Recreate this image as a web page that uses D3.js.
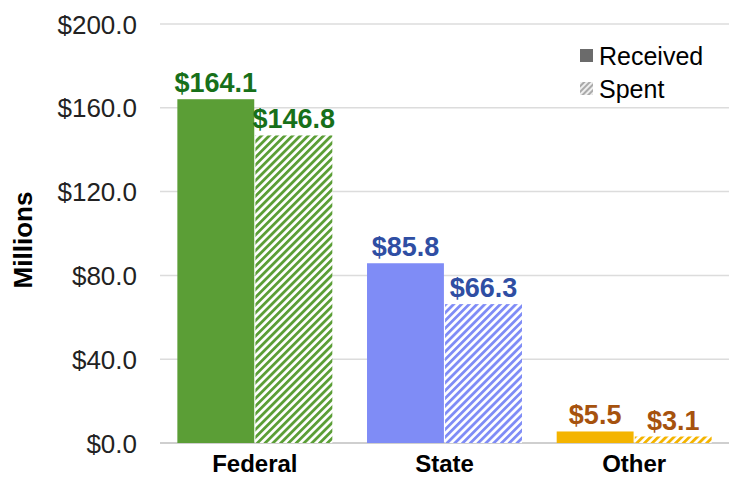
<!DOCTYPE html>
<html><head><meta charset="utf-8">
<script src="https://cdn.jsdelivr.net/npm/d3@7/dist/d3.min.js"></script>
<style>body{margin:0;background:#fff;}svg{display:block;font-family:"Liberation Sans",Arial,sans-serif;}</style>
</head><body>
<svg id="c" width="729" height="478"></svg>
<script>
const categories = ["Federal", "State", "Other"];
const series = ["Received", "Spent"];
const received = [164.1, 85.8, 5.5];
const spent = [146.8, 66.3, 3.1];
const yTicks = [0, 40, 80, 120, 160, 200];
const barColors = ["#5b9e36", "#7f8cf6", "#f4b400"];
const labelColors = ["#17701a", "#2f4ea3", "#a6520e"];

const svg = d3.select("#c");
const y = d3.scaleLinear().domain([0, 200]).range([443, 24]);
const x0 = d3.scaleBand().domain(categories).range([160, 729]).paddingInner(0.183).paddingOuter(0.0915);
const x1 = d3.scaleBand().domain(series).range([0, x0.bandwidth()]).paddingInner(0.015);

const defs = svg.append("defs");
barColors.forEach((c, i) => {
  const p = defs.append("pattern").attr("id", "h" + i).attr("patternUnits", "userSpaceOnUse")
    .attr("width", 5.5).attr("height", 5.5).attr("patternTransform", "rotate(45)");
  p.append("rect").attr("width", 5.5).attr("height", 5.5).attr("fill", "#fff");
  p.append("rect").attr("width", 2.8).attr("height", 5.5).attr("fill", c);
});
const lp = defs.append("pattern").attr("id", "hl").attr("patternUnits", "userSpaceOnUse")
  .attr("width", 4).attr("height", 4).attr("patternTransform", "rotate(45)");
lp.append("rect").attr("width", 4).attr("height", 4).attr("fill", "#eee");
lp.append("rect").attr("width", 2).attr("height", 4).attr("fill", "#aaa");

// y axis + grid
const yAxis = d3.axisLeft(y).tickValues(yTicks).tickSize(0).tickPadding(0).tickFormat(d => "$" + d3.format(".1f")(d));
const gy = svg.append("g").attr("transform", "translate(137,0)").call(yAxis);
gy.select(".domain").remove();
gy.selectAll("text").attr("font-size", 26).attr("fill", "#222").attr("dy", "0.35em");
svg.append("g").selectAll("line").data(yTicks).join("line")
  .attr("x1", 160).attr("x2", 729).attr("y1", d => y(d)).attr("y2", d => y(d))
  .attr("stroke", d => d === 0 ? "#cfcfcf" : "#dcdcdc").attr("stroke-width", d => d === 0 ? 2 : 1.5);

// bars
const data = categories.map((c, i) => ({c, i, vals: [received[i], spent[i]]}));
const groups = svg.append("g").selectAll("g").data(data).join("g")
  .attr("transform", d => `translate(${x0(d.c)},0)`);
groups.selectAll("rect").data(d => d.vals.map((v, j) => ({v, j, i: d.i}))).join("rect")
  .attr("x", d => x1(series[d.j])).attr("width", x1.bandwidth())
  .attr("y", d => y(d.v)).attr("height", d => y(0) - y(d.v))
  .attr("fill", d => d.j === 0 ? barColors[d.i] : `url(#h${d.i})`);
groups.selectAll("text").data(d => d.vals.map((v, j) => ({v, j, i: d.i}))).join("text")
  .attr("x", d => x1(series[d.j]) + x1.bandwidth() / 2).attr("y", d => y(d.v) - 7)
  .attr("text-anchor", "middle").attr("font-size", 27).attr("font-weight", "bold")
  .attr("fill", d => labelColors[d.i]).text(d => "$" + d3.format(".1f")(d.v));

// x axis
const gx = svg.append("g").attr("transform", "translate(0,443)").call(d3.axisBottom(x0).tickSize(0).tickPadding(0));
gx.select(".domain").remove();
gx.selectAll("text").attr("font-size", 24).attr("font-weight", "bold").attr("fill", "#000")
  .attr("dy", null).attr("y", 29);

// y title
svg.append("text").attr("transform", "translate(32,240) rotate(-90)").attr("text-anchor", "middle")
  .attr("font-size", 26).attr("font-weight", "bold").attr("fill", "#000").text("Millions");

// legend
const lg = svg.append("g").attr("transform", "translate(580,0)");
series.forEach((s, i) => {
  const yy = 56 + i * 33;
  lg.append("rect").attr("x", 0).attr("y", yy - 7).attr("width", 13).attr("height", 13)
    .attr("fill", i === 0 ? "#6b6b6b" : "url(#hl)");
  lg.append("text").attr("x", 19).attr("y", yy).attr("dy", "0.35em").attr("font-size", 25)
    .attr("fill", "#000").text(s);
});
</script>
</body></html>
